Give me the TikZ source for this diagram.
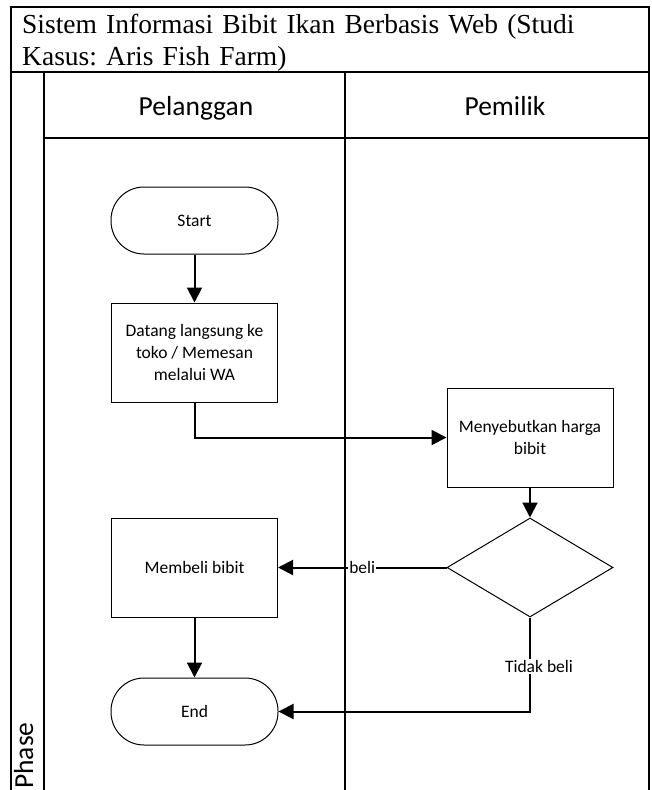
\documentclass[tikz,border=0pt]{standalone}
\usepackage{fontspec}
\setmainfont{Carlito}
\newfontfamily\titlefont{Liberation Serif}
\usetikzlibrary{arrows.meta,shapes.geometric}

\begin{document}
\begin{tikzpicture}[x=1pt,y=-1pt,>={Triangle[length=15pt,width=15pt]},node distance=132pt,
    every node/.style={font=\fontsize{17.5}{22}\selectfont},
    terminal/.style={draw,line width=1pt,rounded corners=33pt,minimum width=167pt,minimum height=67pt},
    process/.style={draw,line width=1pt,minimum width=166pt,minimum height=99pt,align=center,inner sep=2pt},
    decision/.style={draw,diamond,line width=1pt,minimum width=166pt,minimum height=99pt,inner sep=0pt},
    lane/.style={line width=1.6pt},
    flow/.style={->,line width=2pt},
    lbl/.style={fill=white,inner sep=1pt}]
      \useasboundingbox (0,0) rectangle (651,790);

      % swimlanes
      \draw[lane] (11,790) -- (11,7) -- (649,7) -- (649,790);
      \draw[lane] (11,72) -- (649,72);
      \draw[lane] (44,138) -- (649,138);
      \foreach \x in {44,345}
        \draw[lane] (\x,72) -- (\x,790);

      \node[font=\fontsize{27.5}{32}\titlefont\frenchspacing,text width=620pt,align=left,anchor=north west,inner sep=0pt] (title) at (22,14)
        {Sistem Informasi Bibit Ikan Berbasis Web (Studi\\Kasus: Aris Fish Farm)};
      \node[font=\fontsize{27.5}{33}\selectfont,anchor=base] (pelanggan) at (196,115) {Pelanggan};
      \node[font=\fontsize{27.5}{33}\selectfont,anchor=base] (pemilik) at (505,115) {Pemilik};
      \node[font=\fontsize{27.5}{33}\selectfont,rotate=90,anchor=base west,inner sep=0pt] (phase) at (33,789) {Phase};

      % flow
      \node[terminal] (start) at (194.5,220.5) {Start};
      \node[process] (datang) [below of=start] {Datang langsung ke\\toko / Memesan\\melalui WA};
      \node[process] (membeli) [below of=datang,node distance=215pt] {Membeli bibit};
      \node[terminal] (finish) [below of=membeli,node distance=144pt] {End};
      \node[process] (sebut) at (530,437.5) {Menyebutkan harga\\bibit};
      \node[decision] (cek) [below of=sebut,node distance=130pt] {};

      \path[flow]
      (start) edge (datang)
      (sebut) edge (cek)
      (membeli) edge (finish)
      (cek) edge node[lbl] {beli} (membeli)
      ;
      \draw[flow] (datang) |- (sebut);
      \draw[flow] (cek) |- node[lbl,pos=0.26,xshift=9pt] {Tidak beli} (finish);
    \end{tikzpicture}
\end{document}
